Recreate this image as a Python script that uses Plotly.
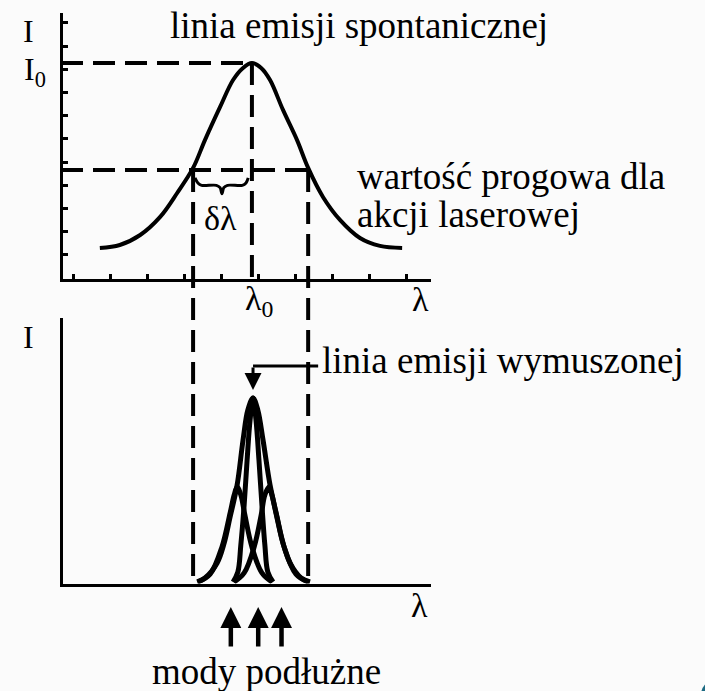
import plotly.graph_objects as go

# ---------------------------------------------------------------------------
# Data (arbitrary units: 1 unit on lambda = one tick step, 1 unit on I = one tick step)
# ---------------------------------------------------------------------------

# spontaneous emission line (upper panel)
spont_lambda = [1.05, 1.59, 2.14, 2.68, 3.14, 3.57, 3.89, 4.30, 4.65, 4.92, 5.16,
                5.41, 5.65, 6.00, 6.38, 6.68, 7.08, 7.54, 8.08, 8.62, 9.22]
spont_int = [1.38, 1.51, 1.94, 2.72, 3.75, 4.83, 6.03, 7.46, 8.62, 9.14, 9.35,
             9.14, 8.62, 7.33, 6.03, 4.83, 3.58, 2.59, 1.81, 1.47, 1.38]

peak_lambda = 5.16          # lambda_0
peak_int = 9.35             # I_0
threshold = 4.74            # lasing threshold
threshold_cross = [3.57, 6.68]

# brace marking delta-lambda under the threshold line
brace_lambda = [3.62, 3.70, 3.80, 4.20, 4.30, 4.35, 4.40, 4.50, 4.90, 5.00, 5.06]
brace_int = [4.40, 4.18, 4.08, 4.08, 3.98, 3.72, 3.98, 4.08, 4.08, 4.18, 4.40]

# stimulated emission line (lower panel): gain envelope and three longitudinal modes
env_lambda = [3.68, 3.89, 4.22, 4.41, 4.57, 4.76, 4.92, 5.05, 5.19,
              5.32, 5.46, 5.65, 5.84, 6.00, 6.19, 6.49, 6.73]
env_int = [0.13, 0.30, 0.95, 1.81, 2.93, 4.31, 6.25, 7.54, 8.06,
           7.54, 6.25, 4.31, 2.93, 1.81, 0.95, 0.30, 0.13]

mode_c_lambda = [4.65, 4.78, 4.86, 4.95, 5.03, 5.11, 5.19, 5.27, 5.35, 5.43, 5.51, 5.59, 5.73]
mode_c_int = [0.13, 0.56, 1.72, 3.45, 5.39, 7.11, 8.06, 7.11, 5.39, 3.45, 1.72, 0.56, 0.13]

mode_l_lambda = [3.70, 4.03, 4.35, 4.57, 4.68, 4.76, 4.86, 4.97, 5.16, 5.43, 5.70]
mode_l_int = [0.13, 0.47, 1.64, 3.10, 3.88, 4.22, 3.88, 3.02, 1.64, 0.52, 0.13]

mode_r_lambda = [4.68, 4.95, 5.22, 5.41, 5.51, 5.62, 5.70, 5.81, 6.03, 6.35, 6.68]
mode_r_int = [0.13, 0.52, 1.64, 3.02, 3.88, 4.22, 3.88, 3.10, 1.64, 0.47, 0.13]

laser_peak_lambda = 5.19
laser_peak_int = 8.06
pointer_end_lambda = 6.95
pointer_int = 9.44
pointer_tip_int = 8.41

mode_arrow_lambda = [4.59, 5.33, 5.96]

# ---------------------------------------------------------------------------
# Layout geometry
# ---------------------------------------------------------------------------
W, H = 705, 691
X_ORIGIN = 61        # px position of lambda = 0
X_SCALE = 37.0       # px per lambda unit
Y_SCALE = 23.2       # px per intensity unit
TOP_BASE, TOP_TOP = 280, 13
BOT_BASE, BOT_TOP = 585, 318
X_END = 431
AX_LW = 3

FONT = '"Liberation Serif", "Times New Roman", Times, serif'
INK = "black"
BG = "#fbfbfb"


def paper_x(px):
    return px / W


def paper_y(py):
    return (H - py) / H


def top_to_paper(v):
    return paper_y(TOP_BASE - v * Y_SCALE)


x_domain = [paper_x(X_ORIGIN + AX_LW / 2), paper_x(X_END)]
x_range = [(AX_LW / 2) / X_SCALE, (X_END - X_ORIGIN) / X_SCALE]

fig = go.Figure()

# upper panel curves
fig.add_trace(go.Scatter(x=spont_lambda, y=spont_int, mode="lines",
                         line=dict(color=INK, width=4, shape="spline", smoothing=1.0),
                         xaxis="x", yaxis="y", hoverinfo="skip"))
fig.add_trace(go.Scatter(x=brace_lambda, y=brace_int, mode="lines",
                         line=dict(color=INK, width=3, shape="spline", smoothing=0.9),
                         xaxis="x", yaxis="y", hoverinfo="skip"))

# lower panel curves
for lam, val in [(env_lambda, env_int), (mode_c_lambda, mode_c_int),
                 (mode_l_lambda, mode_l_int), (mode_r_lambda, mode_r_int)]:
    fig.add_trace(go.Scatter(x=lam, y=val, mode="lines",
                             line=dict(color=INK, width=5, shape="spline", smoothing=1.0),
                             xaxis="x2", yaxis="y2", hoverinfo="skip"))

DASH = "22px,10px"
dash_line = dict(color=INK, width=4, dash=DASH)

shapes = [
    # I0 level
    dict(type="line", xref="x", yref="y", x0=0, x1=peak_lambda, y0=peak_int, y1=peak_int,
         line=dash_line),
    # threshold level
    dict(type="line", xref="x", yref="y", x0=0, x1=threshold_cross[1], y0=threshold, y1=threshold,
         line=dash_line),
    # lambda_0 drop line
    dict(type="line", xref="x", yref="y", x0=peak_lambda, x1=peak_lambda, y0=peak_int, y1=0,
         line=dash_line),
    # pointer to the stimulated emission line
    dict(type="line", xref="x2", yref="y2", x0=laser_peak_lambda, x1=pointer_end_lambda,
         y0=pointer_int, y1=pointer_int, line=dict(color=INK, width=3)),
    # corner ornament
    dict(type="circle", xref="paper", yref="paper", x0=paper_x(701), x1=paper_x(733),
         y0=paper_y(711), y1=paper_y(679), fillcolor="#1d6a82", line=dict(width=0)),
]
# threshold crossings carried down through both panels
for xc in threshold_cross:
    shapes.append(dict(type="line", xref="x", yref="paper", x0=xc, x1=xc,
                       y0=top_to_paper(threshold), y1=paper_y(BOT_BASE), line=dash_line))


def label(text, px, py, size, anchor="center", **kw):
    return dict(text=text, xref="paper", yref="paper", x=paper_x(px), y=paper_y(py),
                xanchor=anchor, yanchor="middle", showarrow=False,
                font=dict(family=FONT, size=size, color=INK), **kw)


annotations = [
    label("linia emisji spontanicznej", 168, 25, 37, "left"),
    label("wartość progowa dla", 355, 177, 37, "left"),
    label("akcji laserowej", 355, 214, 37, "left"),
    label("linia emisji wymuszonej", 320, 360, 37, "left"),
    label("mody podłużne", 150, 671, 37, "left"),
    label("I", 28, 31, 32),
    label("I<sub>0</sub>", 35, 71, 32),
    label("I", 28, 337, 32),
    label("λ", 420, 299, 34),
    label("λ", 419, 605, 34),
    label("δλ", 220, 218, 34),
    dict(text="λ<sub>0</sub>", xref="x", yref="paper", x=peak_lambda + 0.2, y=paper_y(301),
         xanchor="center", yanchor="middle", showarrow=False,
         font=dict(family=FONT, size=34, color=INK)),
    # arrow pointing down at the stimulated emission peak
    dict(text="", xref="x2", yref="y2", x=laser_peak_lambda, y=pointer_tip_int,
         axref="x2", ayref="y2", ax=laser_peak_lambda, ay=pointer_int,
         showarrow=True, arrowhead=2, arrowwidth=3, arrowsize=1.13, arrowcolor=INK),
]
# longitudinal mode markers below the lower axis
for xm in mode_arrow_lambda:
    annotations.append(dict(text="", xref="x2", yref="paper", x=xm, y=paper_y(607),
                            ax=0, ay=41, showarrow=True, arrowhead=2, arrowwidth=4.5,
                            arrowsize=0.93, arrowcolor=INK))

axis_common = dict(showline=True, linewidth=AX_LW, linecolor=INK, showgrid=False,
                   zeroline=False, showticklabels=False)

fig.update_layout(
    width=W, height=H,
    margin=dict(l=0, r=0, t=0, b=0),
    paper_bgcolor=BG, plot_bgcolor=BG,
    showlegend=False,
    font=dict(family=FONT, color=INK),
    xaxis=dict(domain=x_domain, range=x_range, anchor="y",
               ticks="inside", tick0=0.332, dtick=1, ticklen=5, tickwidth=3, tickcolor=INK,
               **axis_common),
    yaxis=dict(domain=[paper_y(TOP_BASE - AX_LW / 2), paper_y(TOP_TOP)],
               range=[(AX_LW / 2) / Y_SCALE, (TOP_BASE - TOP_TOP) / Y_SCALE], anchor="x",
               ticks="inside", tick0=1.08, dtick=1, ticklen=5, tickwidth=3, tickcolor=INK,
               **axis_common),
    xaxis2=dict(domain=x_domain, range=x_range, anchor="y2", ticks="", **axis_common),
    yaxis2=dict(domain=[paper_y(BOT_BASE - AX_LW / 2), paper_y(BOT_TOP)],
                range=[(AX_LW / 2) / Y_SCALE, (BOT_BASE - BOT_TOP) / Y_SCALE], anchor="x2",
                ticks="", **axis_common),
    shapes=shapes,
    annotations=annotations,
)

fig.write_html("out.html")
